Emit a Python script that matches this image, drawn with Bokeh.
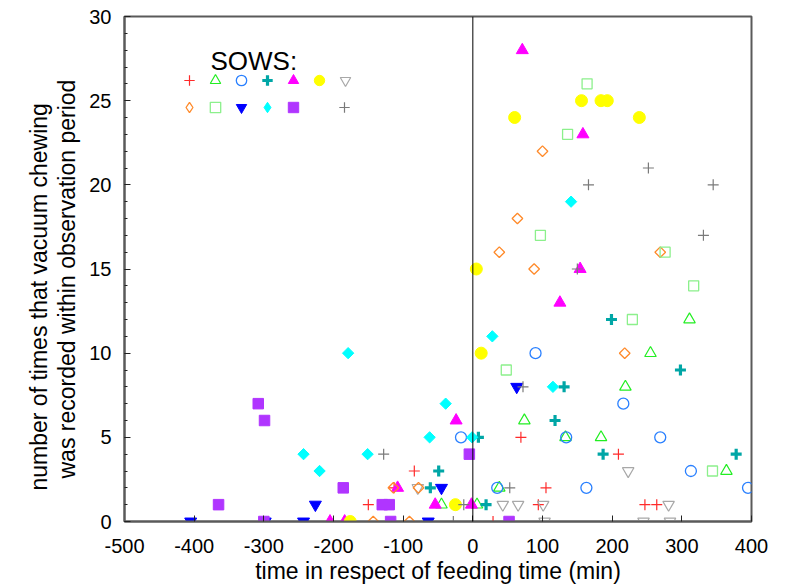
import numpy as np
from bokeh.plotting import figure
from bokeh.models import (Span, Label, Legend, LegendItem, SingleIntervalTicker,
                          ColumnDataSource, PrintfTickFormatter, Title)
from bokeh.embed import file_html
from bokeh.resources import INLINE

FONT = "Liberation Sans"

# ---- data: time relative to feeding (min) and count, one pair of arrays per sow ----
sow1_t = [-150, -113, -84, 29, 69, 94, 105, 209, 247, 264]
sow1_n = [1, 2, 3, 0, 5, 1, 2, 4, 1, 1]
sow2_t = [-45, 6, 38, 74, 133, 184, 219, 255, 311, 364]
sow2_n = [1, 1, 2, 6, 5, 5, 8, 10, 12, 3]
sow3_t = [-17, 35, 90, 134, 163, 216, 269, 313, 395]
sow3_n = [5, 2, 10, 5, 2, 7, 5, 3, 2]
sow4_t = [-61, -49, 8, 19, 118, 131, 187, 199, 298, 378]
sow4_n = [2, 3, 5, 1, 6, 8, 4, 12, 9, 4]
sow5_t = [-205, -184, -108, -54, -24, -2, 71, 125, 154, 158]
sow5_n = [0, 0, 2, 1, 6, 1, 28, 13, 15, 23]
sow6_t = [-176, -25, 5, 12, 60, 156, 184, 193, 239]
sow6_n = [0, 1, 15, 10, 24, 25, 25, 25, 24]
sow7_t = [-79, 43, 65, 101, 103, 223, 245, 281, 283]
sow7_n = [2, 1, 1, 1, 0, 3, 0, 1, 0]
sow8_t = [-143, -114, -91, -78, 38, 64, 88, 100, 218, 269]
sow8_n = [0, 2, 0, 2, 16, 18, 15, 22, 10, 16]
sow9_t = [48, 97, 136, 164, 229, 276, 317, 344]
sow9_n = [9, 17, 23, 26, 12, 16, 14, 3]
sow10_t = [-405, -298, -243, -226, -64, -45, 63]
sow10_n = [0, 0, 0, 1, 0, 2, 8]
sow11_t = [-243, -220, -179, -151, -62, -39, -1, 28, 115, 141]
sow11_n = [4, 3, 10, 4, 5, 7, 5, 11, 8, 19]
sow12_t = [-365, -308, -300, -299, -186, -130, -120, -118, -5, 52]
sow12_n = [1, 7, 0, 6, 2, 1, 1, 0, 4, 0]
sow13_t = [-128, -28, -13, 53, 72, 150, 166, 252, 331, 345]
sow13_n = [4, 0, 1, 2, 8, 15, 20, 21, 17, 20]

feeding_time = 0
x_ticks_interval = 100
y_ticks_interval = 5

# ---- styles (marker, size, line color, fill color, line width, angle) ----
D = np.pi / 4
styles = [
    ("cross", 11, "#FF2A2A", None, 1.2, 0),
    ("triangle", 11.5, "#22EE22", None, 1.2, 0),
    ("circle", 11, "#2A80FF", None, 1.3, 0),
    ("cross", 11, "#00A6A6", None, 3.2, 0),
    ("triangle", 12, "#FF00FF", "#FF00FF", 1, 0),
    ("circle", 12, "#FFFF00", "#FFFF00", 1, 0),
    ("inverted_triangle", 11.5, "#A8A8A8", None, 1.2, 0),
    ("square", 7.5, "#FF8A2A", None, 1.3, D),
    ("square", 10, "#8CF08C", None, 1.3, 0),
    ("inverted_triangle", 12, "#0000FF", "#0000FF", 1, 0),
    ("square", 8, "#00FFFF", "#00FFFF", 1, D),
    ("square", 10.5, "#B035FF", "#B035FF", 1, 0),
    ("cross", 11, "#7A7A7A", None, 1.2, 0),
]
series = [(sow1_t, sow1_n), (sow2_t, sow2_n), (sow3_t, sow3_n), (sow4_t, sow4_n),
          (sow5_t, sow5_n), (sow6_t, sow6_n), (sow7_t, sow7_n), (sow8_t, sow8_n),
          (sow9_t, sow9_n), (sow10_t, sow10_n), (sow11_t, sow11_n), (sow12_t, sow12_n),
          (sow13_t, sow13_n)]

p = figure(width=786, height=586, x_range=(-500, 400), y_range=(0, 30),
           output_backend="svg", toolbar_location=None,
           min_border_left=124, min_border_right=35, min_border_top=16, min_border_bottom=65)
p.xgrid.visible = False
p.ygrid.visible = False
p.outline_line_color = "#5a5a5a"
p.outline_line_width = 2
p.background_fill_color = "white"

p.xaxis.ticker = SingleIntervalTicker(interval=x_ticks_interval, num_minor_ticks=0)
p.yaxis.ticker = SingleIntervalTicker(interval=y_ticks_interval, num_minor_ticks=5)
for ax in (p.xaxis[0], p.yaxis[0]):
    ax.formatter = PrintfTickFormatter(format="%d")
    ax.axis_line_color = "#5a5a5a"
    ax.axis_line_width = 2
    ax.major_tick_in = 6
    ax.major_tick_out = 0
    ax.minor_tick_in = 3
    ax.minor_tick_out = 0
    ax.major_tick_line_color = "#222222"
    ax.minor_tick_line_color = "#222222"
    ax.major_label_text_font = FONT
    ax.major_label_text_font_size = "20px"
    ax.major_label_text_color = "black"
    ax.axis_label_text_font = FONT
    ax.axis_label_text_font_size = "23px"
    ax.axis_label_text_font_style = "normal"
    ax.axis_label_text_color = "black"

p.xaxis.axis_label = "time in respect of feeding time (min)"
p.xaxis.major_label_standoff = 17
p.xaxis.axis_label_standoff = 2
p.yaxis.major_label_standoff = 13

# y axis title, two lines, placed as side titles so they can sit below the frame centre
ylab_line2 = Title(text="was recorded within observation period", align="left", offset=43,
                   vertical_align="top", standoff=10,
                   text_font=FONT, text_font_size="23px", text_font_style="normal",
                   text_color="black")
ylab_line1 = Title(text="number of times that vacuum chewing", align="left", offset=31,
                   vertical_align="bottom", standoff=-7,
                   text_font=FONT, text_font_size="23px", text_font_style="normal",
                   text_color="black")
p.add_layout(ylab_line2, "left")
p.add_layout(ylab_line1, "left")

p.add_layout(Span(location=feeding_time, dimension="height", line_color="black", line_width=1))

renderers = []
for (t, n), (mk, sz, lc, fc, lw, ang) in zip(series, styles):
    src = ColumnDataSource(dict(t=t, n=n))
    r = p.scatter("t", "n", source=src, marker=mk, size=sz, angle=ang,
                  line_color=lc, line_width=lw,
                  fill_color=fc if fc else None, fill_alpha=1 if fc else 0)
    renderers.append(r)

# legend-only proxies for the diamond-shaped markers (legend ignores marker angle)
nan_src = ColumnDataSource(dict(t=[np.nan], n=[np.nan]))
prox8 = p.scatter("t", "n", source=nan_src, marker="diamond", size=10,
                  line_color=styles[7][2], line_width=1.3, fill_color=None, fill_alpha=0)
prox11 = p.scatter("t", "n", source=nan_src, marker="diamond", size=10,
                   line_color=styles[10][2], fill_color=styles[10][3])


def make_legend(rs, loc):
    items = [LegendItem(label=" ", renderers=[r]) for r in rs]
    lg = Legend(items=items, location=loc, orientation="horizontal",
                glyph_width=26, glyph_height=26, label_width=0, label_height=0,
                label_standoff=0, spacing=0, padding=0, margin=0,
                label_text_font_size="1px",
                background_fill_alpha=0, border_line_alpha=0)
    p.add_layout(lg)


make_legend(renderers[0:7], (52, 428))
make_legend([prox8, renderers[8], renderers[9], prox11, renderers[11]], (52, 401))
make_legend([renderers[12]], (207, 401))

p.add_layout(Label(x=86, y=461, x_units="screen", y_units="screen", text="SOWS:",
                   text_font=FONT, text_font_size="26px", text_color="black",
                   text_baseline="alphabetic"))

open("out.html", "w").write(file_html(p, INLINE))
